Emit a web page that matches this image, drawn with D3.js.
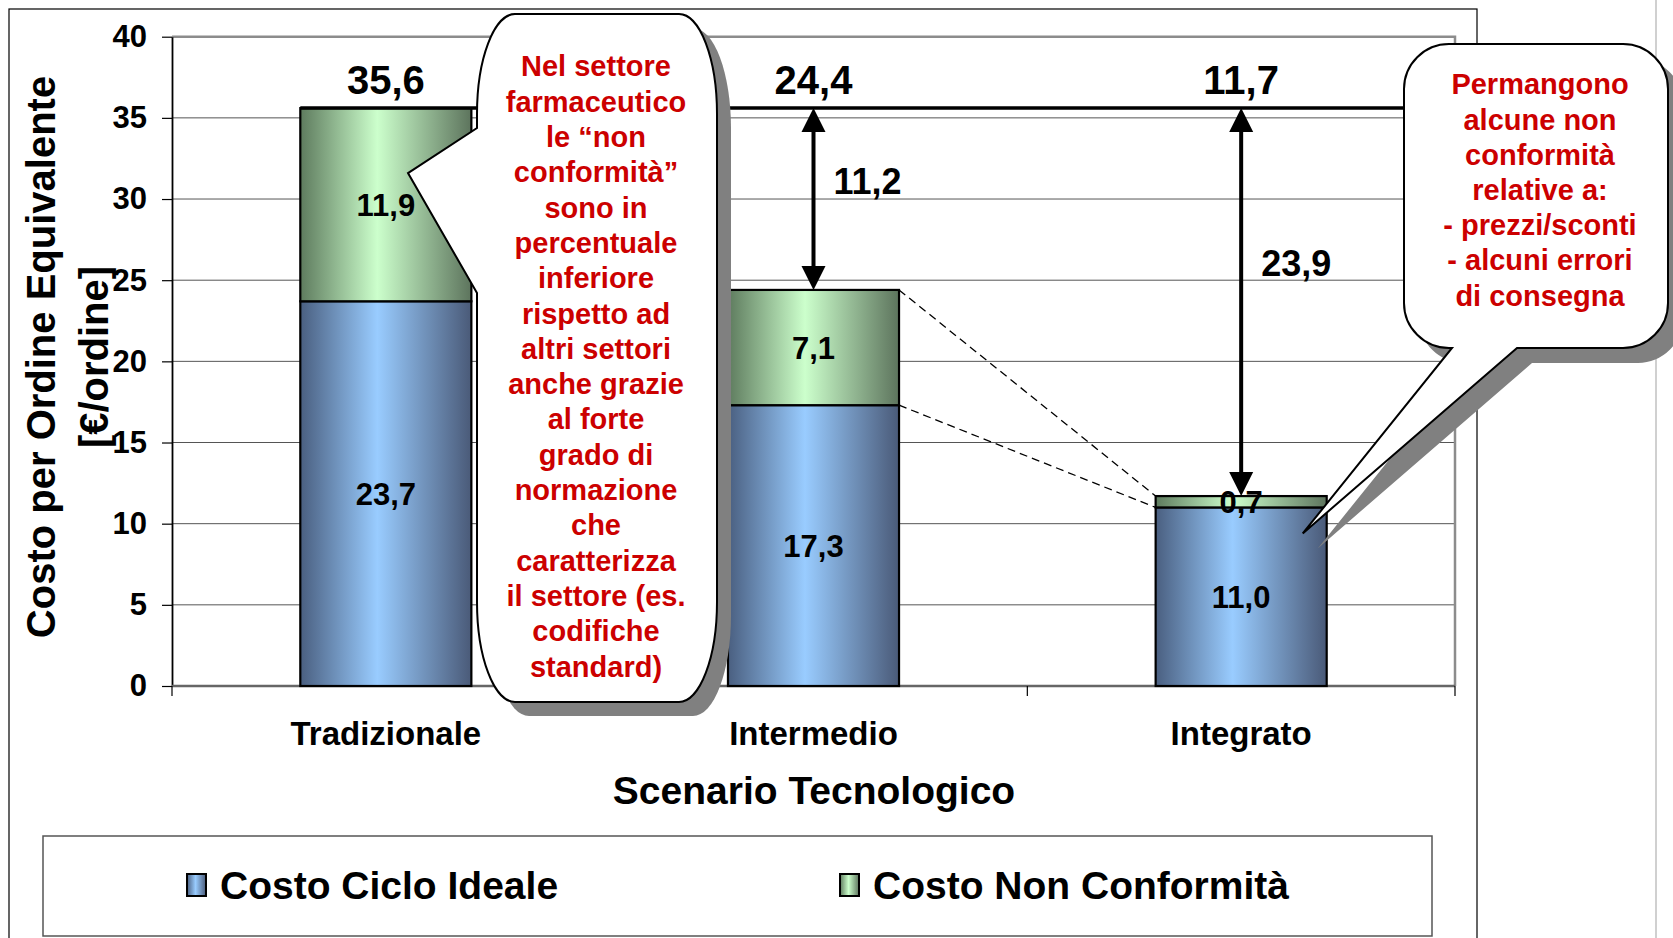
<!DOCTYPE html>
<html>
<head>
<meta charset="utf-8">
<script src="https://cdn.jsdelivr.net/npm/d3@7"></script>
<style>
  body { margin: 0; background: #fff; }
  svg text { font-family: "Liberation Sans", Arial, sans-serif; font-weight: bold; }
</style>
</head>
<body>
<div id="chart"></div>
<script>
// dati
var scenari = ["Tradizionale", "Intermedio", "Integrato"];
var costoCicloIdeale = [23.7, 17.3, 11.0];
var costoNonConformita = [11.9, 7.1, 0.7];
var totali = [35.6, 24.4, 11.7];
var risparmi = [null, 11.2, 23.9];
var yTicks = [0, 5, 10, 15, 20, 25, 30, 35, 40];
var serie = ["Costo Ciclo Ideale", "Costo Non Conformità"];
var titoloY = ["Costo per Ordine Equivalente", "[€/ordine]"];
var titoloX = "Scenario Tecnologico";
var nota1 = ["Nel settore", "farmaceutico", "le \u201cnon", "conformità\u201d", "sono in",
  "percentuale", "inferiore", "rispetto ad", "altri settori", "anche grazie",
  "al forte", "grado di", "normazione", "che", "caratterizza", "il settore (es.",
  "codifiche", "standard)"];
var nota2 = ["Permangono", "alcune non", "conformità", "relative a:",
  "- prezzi/sconti", "- alcuni errori", "di consegna"];

var W = 1673, H = 938;
var it = d3.formatLocale({decimal: ",", thousands: ".", grouping: [3], currency: ["€", ""]});
var fmt = it.format(".1f");

var svg = d3.select("#chart").append("svg")
  .attr("width", W)
  .attr("height", H);

var defs = svg.append("defs");
function gradient(id, edgeL, mid, edgeR) {
  var g = defs.append("linearGradient").attr("id", id)
    .attr("x1", "0%").attr("x2", "100%").attr("y1", "0%").attr("y2", "0%");
  g.append("stop").attr("offset", "0%").attr("stop-color", edgeL);
  g.append("stop").attr("offset", "45%").attr("stop-color", mid);
  g.append("stop").attr("offset", "100%").attr("stop-color", edgeR);
}
gradient("gBlue", "#4a5f80", "#99ccff", "#4a5a78");
gradient("gGreen", "#5e7b5e", "#ccffcc", "#5d745d");

// cornice area grafico e bordo diapositiva
svg.append("rect").attr("x", 9).attr("y", 9).attr("width", 1468).attr("height", 960)
  .attr("fill", "none").attr("stroke", "#000").attr("stroke-width", 1.2);
svg.append("line").attr("x1", 1656).attr("x2", 1656).attr("y1", 0).attr("y2", H)
  .attr("stroke", "#d0d0d0").attr("stroke-width", 2);

var plotL = 172, plotR = 1455, plotT = 36.7, plotB = 686;

var x = d3.scaleBand().domain(scenari).range([plotL, plotR])
  .paddingInner(0.6).paddingOuter(0.3);
var y = d3.scaleLinear().domain([0, 40]).range([plotB, plotT]);

// griglia
svg.append("g").selectAll("line").data(yTicks.slice(1, -1)).enter().append("line")
  .attr("x1", plotL).attr("x2", plotR)
  .attr("y1", function(d) { return y(d); }).attr("y2", function(d) { return y(d); })
  .attr("stroke", "#555").attr("stroke-width", 1);

// bordo area del tracciato (grigio)
svg.append("path")
  .attr("d", "M" + plotL + "," + y(40) + "H" + plotR + "V" + y(0))
  .attr("fill", "none").attr("stroke", "#8c8c8c").attr("stroke-width", 2.5);

// asse y
var yAxis = svg.append("g")
  .attr("transform", "translate(" + plotL + ",0)")
  .call(d3.axisLeft(y).tickValues(yTicks).tickSize(10).tickSizeOuter(0).tickPadding(15));
yAxis.select(".domain").attr("stroke", "#000").attr("stroke-width", 1.8);
yAxis.selectAll(".tick line").attr("stroke", "#000").attr("stroke-width", 1.2);
yAxis.selectAll(".tick text").attr("font-size", 31).attr("fill", "#000")
  .style("font-family", "'Liberation Sans', Arial, sans-serif").style("font-weight", "bold");

// asse x
svg.append("line").attr("x1", plotL).attr("x2", plotR).attr("y1", y(0)).attr("y2", y(0))
  .attr("stroke", "#666").attr("stroke-width", 2.5);
svg.append("g").selectAll("line").data(d3.range(scenari.length + 1)).enter().append("line")
  .attr("x1", function(k) { return plotL + k * x.step(); })
  .attr("x2", function(k) { return plotL + k * x.step(); })
  .attr("y1", y(0)).attr("y2", y(0) + 10)
  .attr("stroke", "#000").attr("stroke-width", 1.2);
svg.append("g").selectAll("text").data(scenari).enter().append("text")
  .attr("x", function(d) { return x(d) + x.bandwidth() / 2; })
  .attr("y", 733).attr("dy", "0.35em")
  .attr("text-anchor", "middle").attr("font-size", 33)
  .text(function(d) { return d; });
svg.append("text").attr("x", 814).attr("y", 790).attr("dy", "0.35em")
  .attr("text-anchor", "middle").attr("font-size", 39).text(titoloX);

// titolo asse y
svg.append("g").attr("transform", "translate(0,357)").selectAll("text")
  .data(titoloY).enter().append("text")
  .attr("transform", function(d, i) { return "translate(" + (55 + i * 53) + ",0) rotate(-90)"; })
  .attr("text-anchor", "middle").attr("font-size", 40)
  .text(function(d) { return d; });

// barre in pila
var righe = scenari.map(function(s, i) {
  return {scenario: s, ideale: costoCicloIdeale[i], nonConf: costoNonConformita[i]};
});
var stack = d3.stack().keys(["ideale", "nonConf"])(righe);
var fills = ["url(#gBlue)", "url(#gGreen)"];

var layers = svg.append("g").selectAll("g").data(stack).enter().append("g")
  .attr("fill", function(d, i) { return fills[i]; });
layers.selectAll("rect").data(function(d) { return d; }).enter().append("rect")
  .attr("x", function(d) { return x(d.data.scenario); })
  .attr("y", function(d) { return y(d[1]); })
  .attr("width", x.bandwidth())
  .attr("height", function(d) { return y(d[0]) - y(d[1]); })
  .attr("stroke", "#000").attr("stroke-width", 2.2);
layers.selectAll("text").data(function(d) { return d; }).enter().append("text")
  .attr("x", function(d) { return x(d.data.scenario) + x.bandwidth() / 2; })
  .attr("y", function(d) { return y((d[0] + d[1]) / 2); })
  .attr("dy", "0.36em").attr("text-anchor", "middle")
  .attr("font-size", 31).attr("fill", "#000")
  .text(function(d) { return fmt(d[1] - d[0]); });

// linee tratteggiate tra Intermedio e Integrato
var xi = x("Intermedio") + x.bandwidth(), xg = x("Integrato");
[[totali[1], totali[2]], [costoCicloIdeale[1], costoCicloIdeale[2]]].forEach(function(p) {
  svg.append("line").attr("x1", xi).attr("y1", y(p[0])).attr("x2", xg).attr("y2", y(p[1]))
    .attr("stroke", "#000").attr("stroke-width", 1.3).attr("stroke-dasharray", "8,5");
});

// linea di riferimento al livello tradizionale
svg.append("line")
  .attr("x1", x(scenari[0])).attr("x2", 1430)
  .attr("y1", y(totali[0])).attr("y2", y(totali[0]))
  .attr("stroke", "#000").attr("stroke-width", 3.5);

// totali
svg.append("g").selectAll("text").data(totali).enter().append("text")
  .attr("x", function(d, i) { return x(scenari[i]) + x.bandwidth() / 2; })
  .attr("y", 80).attr("dy", "0.36em").attr("text-anchor", "middle")
  .attr("font-size", 40)
  .text(function(d) { return fmt(d); });

// frecce doppie con il risparmio
risparmi.forEach(function(r, i) {
  if (r === null) return;
  var cx = x(scenari[i]) + x.bandwidth() / 2;
  var y1 = y(totali[0]), y2 = y(totali[i]);
  var hw = 12, hh = 24;
  svg.append("line").attr("x1", cx).attr("x2", cx).attr("y1", y1 + hh - 2).attr("y2", y2 - hh + 2)
    .attr("stroke", "#000").attr("stroke-width", 4);
  svg.append("path").attr("d", "M" + cx + "," + y1 + "L" + (cx - hw) + "," + (y1 + hh) + "L" + (cx + hw) + "," + (y1 + hh) + "Z");
  svg.append("path").attr("d", "M" + cx + "," + y2 + "L" + (cx - hw) + "," + (y2 - hh) + "L" + (cx + hw) + "," + (y2 - hh) + "Z");
  svg.append("text").attr("x", cx + 20).attr("y", y(totali[i] + r * 0.6)).attr("dy", "0.36em")
    .attr("font-size", 36).text(fmt(r));
});

// fumetto 1
function fumetto1(dx, dy, withWedge) {
  var x0 = 477 + dx, x1 = 717 + dx, y0 = 14 + dy, y1 = 702 + dy, rx = 38, ry = 100;
  var tipX = 408 + dx, tipY = y(31.6) + dy;
  var p = "M" + (x0 + rx) + "," + y0 + "H" + (x1 - rx) +
    "A" + rx + "," + ry + " 0 0 1 " + x1 + "," + (y0 + ry) +
    "V" + (y1 - ry) + "A" + rx + "," + ry + " 0 0 1 " + (x1 - rx) + "," + y1 +
    "H" + (x0 + rx) + "A" + rx + "," + ry + " 0 0 1 " + x0 + "," + (y1 - ry);
  if (withWedge) {
    p += "V" + (293 + dy) + "L" + tipX + "," + tipY + "L" + x0 + "," + (128 + dy);
  }
  p += "V" + (y0 + ry) + "A" + rx + "," + ry + " 0 0 1 " + (x0 + rx) + "," + y0 + "Z";
  return p;
}
svg.append("path").attr("d", fumetto1(14, 14, false)).attr("fill", "#808080");
svg.append("path").attr("d", fumetto1(0, 0, true))
  .attr("fill", "#fff").attr("stroke", "#000").attr("stroke-width", 2);
svg.append("g").selectAll("text").data(nota1).enter().append("text")
  .attr("x", 596).attr("y", function(d, i) { return 66 + i * 35.3; })
  .attr("dy", "0.36em").attr("text-anchor", "middle")
  .attr("font-size", 29).attr("fill", "#cc0000")
  .text(function(d) { return d; });

// fumetto 2
function fumetto2(dx, dy) {
  var x0 = 1404 + dx, x1 = 1668 + dx, y0 = 44 + dy, y1 = 348 + dy, r = 45;
  var tipX = x("Integrato") + x.bandwidth() * 0.86 + dx, tipY = y(9.4) + dy;
  return "M" + (x0 + r) + "," + y0 + "H" + (x1 - r) +
    "A" + r + "," + r + " 0 0 1 " + x1 + "," + (y0 + r) +
    "V" + (y1 - r) + "A" + r + "," + r + " 0 0 1 " + (x1 - r) + "," + y1 +
    "H" + (1517 + dx) + "L" + tipX + "," + tipY + "L" + (1452 + dx) + "," + y1 +
    "H" + (x0 + r) + "A" + r + "," + r + " 0 0 1 " + x0 + "," + (y1 - r) +
    "V" + (y0 + r) + "A" + r + "," + r + " 0 0 1 " + (x0 + r) + "," + y0 + "Z";
}
svg.append("path").attr("d", fumetto2(15, 15)).attr("fill", "#808080");
svg.append("path").attr("d", fumetto2(0, 0))
  .attr("fill", "#fff").attr("stroke", "#000").attr("stroke-width", 2);
svg.append("g").selectAll("text").data(nota2).enter().append("text")
  .attr("x", 1540).attr("y", function(d, i) { return 84 + i * 35.2; })
  .attr("dy", "0.36em").attr("text-anchor", "middle")
  .attr("font-size", 29).attr("fill", "#cc0000")
  .text(function(d) { return d; });

// legenda
svg.append("rect").attr("x", 43).attr("y", 836).attr("width", 1389).attr("height", 100)
  .attr("fill", "#fff").attr("stroke", "#555").attr("stroke-width", 1.5);
var legX = [187, 840];
var leg = svg.append("g").selectAll("g").data(serie).enter().append("g")
  .attr("transform", function(d, i) { return "translate(" + legX[i] + ",885)"; });
leg.append("rect").attr("x", 0).attr("y", -11).attr("width", 19).attr("height", 22)
  .attr("fill", function(d, i) { return fills[i]; })
  .attr("stroke", "#000").attr("stroke-width", 2);
leg.append("text").attr("x", 33).attr("y", 0).attr("dy", "0.36em")
  .attr("font-size", 39).text(function(d) { return d; });
</script>
</body>
</html>
